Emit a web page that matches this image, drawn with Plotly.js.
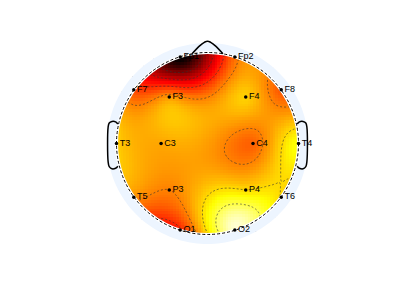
<!DOCTYPE html>
<html><head><meta charset="utf-8">
<script src="https://cdn.plot.ly/plotly-3.0.1.min.js"></script>
<style>html,body{margin:0;padding:0;background:#fff}#plot{width:400px;height:299px}</style>
</head><body><div id="plot"></div>
<script>
const elecNames = ['Fp1','Fp2','F7','F3','F4','F8','T3','C3','C4','T4','T5','P3','P4','T6','O1','O2'];
const elecX = [-0.30,0.30,-0.81,-0.42,0.42,0.81,-1.00,-0.51,0.50,1.00,-0.81,-0.42,0.42,0.81,-0.30,0.30];
const elecY = [0.95,0.95,0.59,0.51,0.51,0.59,0.00,0.00,0.00,0.00,-0.59,-0.51,-0.51,-0.59,-0.95,-0.95];
const elecVal = [-0.03,0.54,0.48,0.60,0.68,0.50,0.68,0.62,0.52,0.76,0.59,0.565,0.695,0.69,0.42,0.95];
const contourStart = 0.175, contourStep = 0.13, contourEnd = 0.83;

// Biharmonic spline interpolation (topographic map)
function green(r){ return r>0 ? r*r*(Math.log(r)-1) : 0; }
const n = elecX.length;
const A = [];
for (let i=0;i<n;i++){ const row=[]; for(let j=0;j<n;j++){ row.push(green(Math.hypot(elecX[i]-elecX[j], elecY[i]-elecY[j]))); } row.push(elecVal[i]); A.push(row); }
for (let c=0;c<n;c++){
  let p=c; for(let r=c+1;r<n;r++) if(Math.abs(A[r][c])>Math.abs(A[p][c])) p=r;
  [A[c],A[p]]=[A[p],A[c]];
  for(let r=0;r<n;r++){ if(r===c) continue; const f=A[r][c]/A[c][c]; for(let k=c;k<=n;k++) A[r][k]-=f*A[c][k]; }
}
const w = A.map((row,i)=>row[n]/row[i]);
const G = 67;
const gx=[], gy=[];
for(let i=0;i<G;i++){ gx.push(-1+2*i/(G-1)); gy.push(-1+2*i/(G-1)); }
const zFull=[], zMask=[];
for(let j=0;j<G;j++){ const rf=[], rm=[];
  for(let i=0;i<G;i++){ let v=0; for(let k=0;k<n;k++) v+=w[k]*green(Math.hypot(gx[i]-elecX[k], gy[j]-elecY[k]));
    rf.push(v); rm.push(gx[i]*gx[i]+gy[j]*gy[j] <= 1.0 ? v : null); }
  zFull.push(rf); zMask.push(rm); }

const hot = [[0,'rgb(10,0,0)'],[0.375,'rgb(255,0,0)'],[0.75,'rgb(255,255,0)'],[1,'rgb(255,255,255)']];

function circ(r, ccw){ const pts=[]; const N=180; for(let i=0;i<=N;i++){ const a=(ccw?1:-1)*2*Math.PI*i/N; pts.push([r*Math.cos(a), r*Math.sin(a)]); } return pts; }
function toPath(pts){ return pts.map((p,i)=>(i?'L':'M')+p[0].toFixed(4)+','+p[1].toFixed(4)).join(' ')+' Z'; }
const rect = 'M-5,-5 L5,-5 L5,5 L-5,5 Z';
const maskPath = rect + ' ' + toPath(circ(1.105,false));
const ringPath = toPath(circ(1.105,true)) + ' ' + toPath(circ(1.0,false));

const earX = [0.985,1.01,1.05,1.08,1.092,1.092,1.08,1.05,1.01,0.985];
const earY = [0.215,0.238,0.242,0.225,0.18,-0.2,-0.255,-0.278,-0.272,-0.25];
const noseX = [-0.17,-0.09,-0.035,0,0.035,0.09,0.17];
const noseY = [0.985,1.07,1.112,1.125,1.112,1.07,0.985];

const traces = [
  {type:'heatmap', x:gx, y:gy, z:zMask, zmin:0, zmax:1, colorscale:hot, showscale:false, zsmooth:false, hoverinfo:'skip', xaxis:'x', yaxis:'y'},
  {type:'contour', x:gx, y:gy, z:zFull, showscale:false, hoverinfo:'skip', xaxis:'x', yaxis:'y',
   contours:{coloring:'none', start:contourStart, end:contourEnd, size:contourStep}, line:{color:'#333', width:0.6, dash:'2px,2px'}},
  {type:'scatter', mode:'lines', x:noseX, y:noseY, line:{color:'black', width:1.5, shape:'spline'}, hoverinfo:'skip', xaxis:'x2', yaxis:'y2'},
  {type:'scatter', mode:'lines', x:earX.map(v=>-v), y:earY, line:{color:'black', width:1.5, shape:'spline'}, hoverinfo:'skip', xaxis:'x2', yaxis:'y2'},
  {type:'scatter', mode:'lines', x:earX, y:earY, line:{color:'black', width:1.5, shape:'spline'}, hoverinfo:'skip', xaxis:'x2', yaxis:'y2'},
  {type:'scatter', mode:'markers+text', x:elecX, y:elecY, text:elecNames, textposition:'middle right',
   textfont:{family:'Liberation Sans, Arial', size:9, color:'black'}, marker:{color:'black', size:3.5}, hoverinfo:'skip', xaxis:'x2', yaxis:'y2'}
];
const xr=[-2.280,2.115], yr=[-1.709,1.577];
const ax = {range:xr, visible:false, fixedrange:true};
const ay = {range:yr, visible:false, fixedrange:true};
const layout = {
  width:400, height:299, margin:{l:0,r:0,t:0,b:0}, showlegend:false,
  paper_bgcolor:'white', plot_bgcolor:'rgba(0,0,0,0)',
  xaxis:Object.assign({domain:[0,1], anchor:'y'},ax), yaxis:Object.assign({domain:[0,1], anchor:'x'},ay),
  xaxis2:Object.assign({domain:[0,1], anchor:'y2'},ax), yaxis2:Object.assign({domain:[0,1], anchor:'x2'},ay),
  shapes:[
    {type:'path', path:maskPath, xref:'x2', yref:'y2', fillcolor:'white', line:{width:0}, layer:'below'},
    {type:'path', path:ringPath, xref:'x2', yref:'y2', fillcolor:'rgb(237,245,255)', line:{width:0}, layer:'below'},
    {type:'circle', x0:-1.0, x1:1.0, y0:-1.0, y1:1.0, xref:'x2', yref:'y2', line:{color:'white', width:3}, layer:'below'},
    {type:'circle', x0:-1.0, x1:1.0, y0:-1.0, y1:1.0, xref:'x2', yref:'y2', line:{color:'black', width:1, dash:'3px,2px'}, layer:'below'}
  ]
};
Plotly.newPlot('plot', traces, layout, {staticPlot:true, displayModeBar:false});
</script></body></html>
